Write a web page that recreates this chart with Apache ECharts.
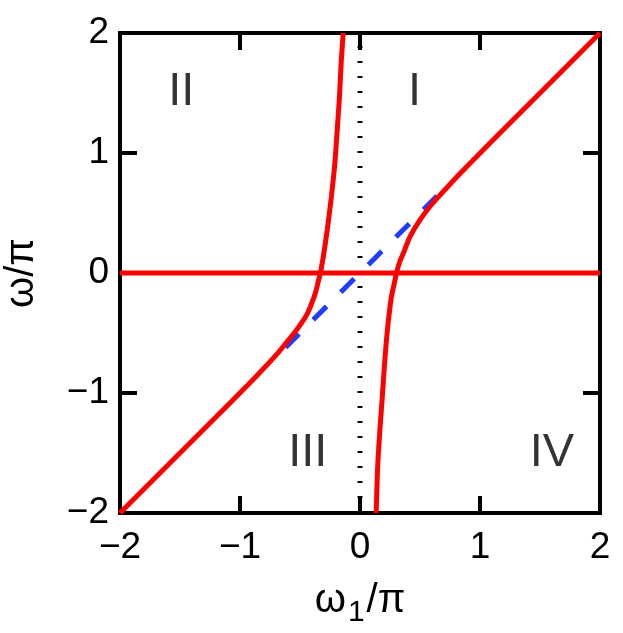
<!DOCTYPE html>
<html>
<head>
<meta charset="utf-8">
<script src="https://cdn.jsdelivr.net/npm/echarts@6/dist/echarts.min.js"></script>
<style>
html,body{margin:0;padding:0;background:#fff;}
#chart{width:623px;height:633px;}
</style>
</head>
<body>
<div id="chart"></div>
<script>
// Tick values and labels
const xTicks = [-2, -1, 0, 1, 2];
const xTickLabels = ['\u22122', '\u22121', '0', '1', '2'];
const yTicks = [-2, -1, 0, 1, 2];
const yTickLabels = ['\u22122', '\u22121', '0', '1', '2'];

// Red branch A (lower-left asymptote up to near-vertical top), [omega1/pi, omega/pi]
const branchA = [
  [-2, -2], [-1.2, -1.2], [-0.85, -0.845], [-0.7, -0.685], [-0.605, -0.57],
  [-0.54, -0.49], [-0.49, -0.42], [-0.44, -0.34], [-0.405, -0.26], [-0.37, -0.16],
  [-0.345, -0.06], [-0.33, 0], [-0.305, 0.14], [-0.273, 0.36], [-0.238, 0.64],
  [-0.21, 0.91], [-0.19, 1.19], [-0.171, 1.47], [-0.157, 1.75], [-0.14, 2.0]
];
// Red branch B (near-vertical bottom up to upper-right asymptote)
const branchB = [
  [0.135, -2.0], [0.148, -1.6], [0.165, -1.32], [0.185, -1.044], [0.204, -0.767],
  [0.227, -0.489], [0.26, -0.21], [0.283, -0.1], [0.304, 0], [0.33, 0.09],
  [0.361, 0.164], [0.417, 0.303], [0.5, 0.442], [0.6, 0.575], [0.7, 0.685],
  [0.85, 0.845], [1.2, 1.2], [2, 2]
];
// Red horizontal line omega = 0
const zeroLine = [[-2, 0], [2, 0]];
// Blue dashed diagonal segment
const blueDashed = [[-0.62, -0.62], [0.66, 0.66]];
// Black dotted vertical at omega1 = 0
const dottedLine = [[0, -2], [0, 2]];
// Region labels
const regionNames = ['II', 'I', 'III', 'IV'];
const regionX = [-1.49, 0.455, -0.435, 1.6];
const regionY = [1.51, 1.51, -1.5, -1.5];

const FONT = 'Liberation Sans, Arial, Helvetica, sans-serif';
const tickFmt = (ticks, labels) => (v) => {
  const i = ticks.findIndex(t => Math.abs(t - v) < 1e-9);
  return i >= 0 ? labels[i] : '';
};

const tickStyle = { show: true, inside: true, length: 17, lineStyle: { color: '#000', width: 4 } };
const noLine = { show: false, onZero: false };

const chart = echarts.init(document.getElementById('chart'), null, { renderer: 'canvas' });
chart.setOption({
  animation: false,
  backgroundColor: '#fff',
  grid: {
    left: 120, right: 23, top: 33, bottom: 120,
    outerBoundsMode: 'none', containLabel: false,
    show: true, borderColor: '#000', borderWidth: 4, backgroundColor: 'transparent'
  },
  xAxis: [
    {
      type: 'value', min: -2, max: 2, interval: 1, position: 'bottom',
      axisLine: noLine, axisTick: tickStyle, splitLine: { show: false },
      axisLabel: { margin: 16, fontSize: 37, color: '#000', fontFamily: FONT,
        formatter: tickFmt(xTicks, xTickLabels) },
      name: '{a|\u03c9}{s|1}{a|/\u03c0}', nameLocation: 'middle', nameGap: 75,
      nameTextStyle: {
        color: '#000', fontFamily: FONT,
        rich: {
          a: { fontSize: 40, fontFamily: FONT, color: '#000', verticalAlign: 'bottom', lineHeight: 40, padding: [0, 0, 7, 0] },
          s: { fontSize: 30, fontFamily: FONT, color: '#000', verticalAlign: 'bottom', lineHeight: 30, padding: [0, 2, 0, 2] }
        }
      }
    },
    {
      type: 'value', min: -2, max: 2, interval: 1, position: 'top',
      axisLine: noLine, axisTick: tickStyle, splitLine: { show: false },
      axisLabel: { show: false }
    }
  ],
  yAxis: [
    {
      type: 'value', min: -2, max: 2, interval: 1, position: 'left',
      axisLine: noLine, axisTick: tickStyle, splitLine: { show: false },
      axisLabel: { margin: 11, fontSize: 37, color: '#000', fontFamily: FONT,
        formatter: tickFmt(yTicks, yTickLabels) },
      name: '\u03c9/\u03c0', nameLocation: 'middle', nameGap: 78, nameRotate: 90,
      nameTextStyle: { color: '#000', fontFamily: FONT, fontSize: 40 }
    },
    {
      type: 'value', min: -2, max: 2, interval: 1, position: 'right',
      axisLine: noLine, axisTick: tickStyle, splitLine: { show: false },
      axisLabel: { show: false }
    }
  ],
  series: [
    {
      type: 'line', data: dottedLine, showSymbol: false, silent: true,
      lineStyle: { color: '#000', width: 5, type: [2, 13], cap: 'butt' }
    },
    {
      type: 'line', data: blueDashed, showSymbol: false, silent: true,
      lineStyle: { color: '#1f3cff', width: 5, type: [19, 20], cap: 'butt' }
    },
    {
      type: 'line', data: zeroLine, showSymbol: false, silent: true,
      lineStyle: { color: '#ff0000', width: 5 }
    },
    {
      type: 'line', data: branchA, showSymbol: false, silent: true, smooth: 0.3,
      lineStyle: { color: '#ff0000', width: 5 }
    },
    {
      type: 'line', data: branchB, showSymbol: false, silent: true, smooth: 0.3,
      lineStyle: { color: '#ff0000', width: 5 }
    },
    {
      type: 'scatter', silent: true, symbolSize: 1,
      itemStyle: { color: 'rgba(0,0,0,0)' },
      data: regionNames.map((n, i) => ({ name: n, value: [regionX[i], regionY[i]] })),
      label: { show: true, position: 'inside', formatter: '{b}', fontSize: 47, color: '#000', fontFamily: FONT }
    }
  ]
});
</script>
</body>
</html>
